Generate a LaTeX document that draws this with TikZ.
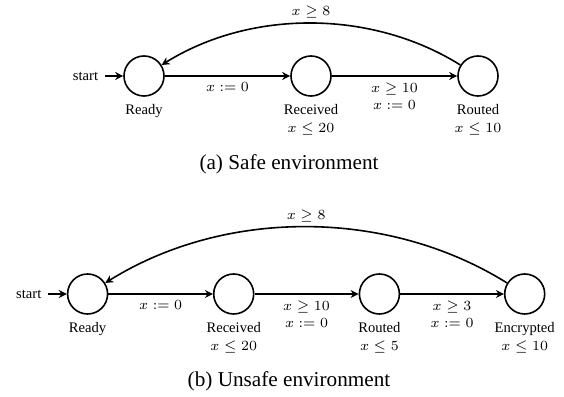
\documentclass[tikz,border=0pt]{standalone}
\usepackage{fontspec}
\setmainfont{Liberation Serif}
\usetikzlibrary{arrows.meta}

\tikzset{
  loc/.style={circle,draw,line width=0.8pt,minimum size=20pt,inner sep=0pt},
  lbl/.style={font=\fontsize{7.3}{9}\selectfont,align=center,inner sep=1.8pt,yshift=-2pt},
  guard/.style={font=\fontsize{7.3}{8.7}\selectfont,align=center,below,inner sep=3pt},
  trans/.style={-{Stealth[length=4pt,width=4pt]},line width=0.8pt},
  startlbl/.style={font=\fontsize{7.3}{9}\selectfont},
  caption/.style={font=\fontsize{10.6}{12}\selectfont}
}

\begin{document}
\begin{tikzpicture}[x=0.5pt,y=0.5pt]
      \useasboundingbox (0,0) rectangle (564,397);
      % (a) safe environment
      \node[startlbl] (start1) at (85.5,321) {start};
      \node[loc,label={[lbl]below:Ready}] (ready1) at (144,321) {};
      \node[loc,label={[lbl]below:{Received\\$x \leq 20$}}] (recv1) at (311,321) {};
      \node[loc,label={[lbl]below:{Routed\\$x \leq 10$}}] (routed1) at (478,321) {};
      \node[caption] (capa) at (289,233) {(a) Safe environment};
      \begin{scope}[trans]
        \draw (start1) -- (ready1);
        \draw (ready1) -- node[guard] {$x := 0$} (recv1);
        \draw (recv1) -- node[guard] {$x \geq 10$\\$x := 0$} (routed1);
        \draw (routed1) to[bend right=32,looseness=0.9] node[guard,above,inner sep=2pt] {$x \geq 8$} (ready1);
      \end{scope}
      % (b) unsafe environment
      \node[startlbl] (start2) at (28.8,103) {start};
      \node[loc,label={[lbl]below:Ready}] (ready2) at (87.6,103) {};
      \node[loc,label={[lbl]below:{Received\\$x \leq 20$}}] (recv2) at (233.7,103) {};
      \node[loc,label={[lbl]below:{Routed\\$x \leq 5$}}] (routed2) at (379.4,103) {};
      \node[loc,label={[lbl]below:{Encrypted\\$x \leq 10$}}] (encr2) at (524.7,103) {};
      \node[caption] (capb) at (289,16) {(b) Unsafe environment};
      \begin{scope}[trans]
        \draw (start2) -- (ready2);
        \draw (ready2) -- node[guard] {$x := 0$} (recv2);
        \draw (recv2) -- node[guard] {$x \geq 10$\\$x := 0$} (routed2);
        \draw (routed2) -- node[guard] {$x \geq 3$\\$x := 0$} (encr2);
        \draw (encr2) to[bend right=32,looseness=0.9] node[guard,above,inner sep=2pt] {$x \geq 8$} (ready2);
      \end{scope}
    \end{tikzpicture}
\end{document}
